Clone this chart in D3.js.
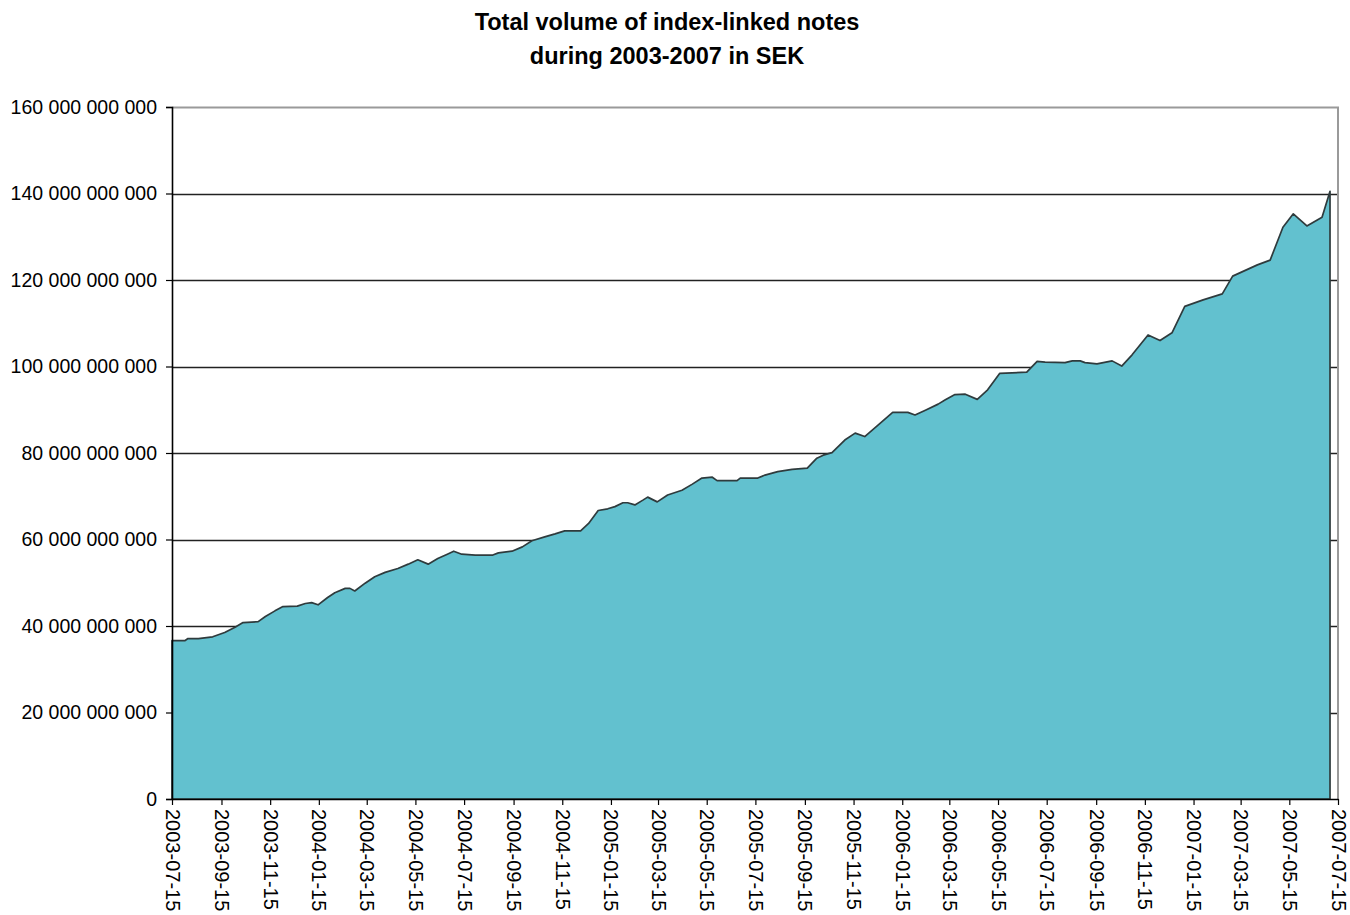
<!DOCTYPE html>
<html>
<head>
<meta charset="utf-8">
<script src="https://cdn.jsdelivr.net/npm/d3@7"></script>
<style>
  html, body { margin: 0; padding: 0; background: #ffffff; }
  svg { display: block; }
  text { font-family: "Liberation Sans", Arial, sans-serif; fill: #000; }
</style>
</head>
<body>
<svg id="chart" width="1350" height="915"></svg>
<script>
// Observation dates (YYYY-MM-DD)
const dates = [
  "2003-07-15","2003-07-31","2003-08-04","2003-08-17","2003-09-04","2003-09-19",
  "2003-10-02","2003-10-12","2003-10-31","2003-11-09","2003-11-21","2003-12-01",
  "2003-12-19","2003-12-29","2004-01-06","2004-01-14","2004-01-26","2004-02-04",
  "2004-02-17","2004-02-23","2004-02-29","2004-03-13","2004-03-25","2004-04-07",
  "2004-04-23","2004-05-06","2004-05-18","2004-05-31","2004-06-12","2004-06-24",
  "2004-07-02","2004-07-12","2004-07-29","2004-08-20","2004-08-27","2004-09-13",
  "2004-09-26","2004-10-08","2004-10-24","2004-11-06","2004-11-18","2004-12-08",
  "2004-12-18","2004-12-30","2005-01-11","2005-01-20","2005-01-30","2005-02-05",
  "2005-02-14","2005-02-24","2005-03-02","2005-03-14","2005-03-27","2005-04-14",
  "2005-04-27","2005-05-09","2005-05-22","2005-05-28","2005-06-22","2005-06-26",
  "2005-07-18","2005-07-27","2005-08-12","2005-08-30","2005-09-18","2005-09-30",
  "2005-10-08","2005-10-19","2005-11-04","2005-11-17","2005-11-29","2005-12-16",
  "2006-01-03","2006-01-22","2006-01-31","2006-02-13","2006-03-01","2006-03-10",
  "2006-03-22","2006-04-04","2006-04-19","2006-05-02","2006-05-17","2006-06-20",
  "2006-07-03","2006-07-13","2006-08-07","2006-08-16","2006-08-26","2006-09-01",
  "2006-09-16","2006-10-05","2006-10-17","2006-10-30","2006-11-19","2006-12-04",
  "2006-12-19","2007-01-04","2007-01-27","2007-02-20","2007-03-05","2007-04-05",
  "2007-04-21","2007-05-07","2007-05-20","2007-06-06","2007-06-25","2007-07-05"
];

// Total outstanding volume, billions of SEK
const volumeBn = [
  36.6, 36.6, 37.1, 37.1, 37.5, 38.5,
  39.7, 40.8, 41.0, 42.2, 43.5, 44.5,
  44.6, 45.2, 45.4, 44.9, 46.6, 47.7,
  48.7, 48.7, 48.1, 49.9, 51.4, 52.4,
  53.3, 54.3, 55.3, 54.3, 55.6, 56.6,
  57.3, 56.6, 56.4, 56.4, 56.9, 57.3,
  58.3, 59.7, 60.6, 61.3, 62.0, 62.0,
  63.7, 66.7, 67.1, 67.6, 68.5, 68.5,
  68.0, 69.1, 69.8, 68.7, 70.3, 71.4,
  72.8, 74.2, 74.4, 73.6, 73.6, 74.2,
  74.2, 74.9, 75.7, 76.2, 76.5, 78.8,
  79.5, 80.1, 83.0, 84.6, 83.8, 86.5,
  89.4, 89.4, 88.8, 89.9, 91.3, 92.3,
  93.5, 93.6, 92.4, 94.6, 98.4, 98.7,
  101.2, 101.0, 100.9, 101.3, 101.3, 100.9,
  100.6, 101.3, 100.1, 102.7, 107.3, 106.0,
  107.8, 113.9, 115.4, 116.8, 120.9, 123.5,
  124.6, 132.2, 135.3, 132.5, 134.5, 140.5
];

// Axis tick labels
const xTickLabels = [
  "2003-07-15","2003-09-15","2003-11-15","2004-01-15","2004-03-15","2004-05-15",
  "2004-07-15","2004-09-15","2004-11-15","2005-01-15","2005-03-15","2005-05-15",
  "2005-07-15","2005-09-15","2005-11-15","2006-01-15","2006-03-15","2006-05-15",
  "2006-07-15","2006-09-15","2006-11-15","2007-01-15","2007-03-15","2007-05-15",
  "2007-07-15"
];
const yTicks = [0, 20e9, 40e9, 60e9, 80e9, 100e9, 120e9, 140e9, 160e9];

const titleLines = ["Total volume of index-linked notes", "during 2003-2007 in SEK"];

const parse = d3.utcParse("%Y-%m-%d");
const data = dates.map((d, i) => ({ date: parse(d), value: volumeBn[i] * 1e9 }));
const xTicks = xTickLabels.map(parse);

const svg = d3.select("#chart");
const margin = { left: 172, right: 12, top: 107, bottom: 116 };
const width = 1350, height = 915;

const x = d3.scaleUtc()
  .domain([xTicks[0], xTicks[xTicks.length - 1]])
  .range([margin.left, width - margin.right]);
const y = d3.scaleLinear()
  .domain([0, 160e9])
  .range([height - margin.bottom, margin.top]);

const fmt = v => d3.format(",")(v).replace(/,/g, " ");

// Title
svg.append("g")
  .selectAll("text")
  .data(titleLines)
  .join("text")
  .attr("x", 667)
  .attr("y", (d, i) => 30 + i * 34)
  .attr("text-anchor", "middle")
  .style("font-size", "23.5px")
  .style("font-weight", "bold")
  .text(d => d);

// Horizontal gridlines
svg.append("g")
  .selectAll("line")
  .data(yTicks.filter(v => v > 0 && v < 160e9))
  .join("line")
  .attr("x1", x.range()[0]).attr("x2", x.range()[1])
  .attr("y1", d => Math.round(y(d)) + 0.5).attr("y2", d => Math.round(y(d)) + 0.5)
  .attr("stroke", "#222").attr("stroke-width", 1.4);

// Plot frame (top and right edges)
svg.append("path")
  .attr("d", `M${x.range()[0]},${y(160e9) + 0.5}H${x.range()[1]}V${y(0)}`)
  .attr("fill", "none")
  .attr("stroke", "#9a9a9a")
  .attr("stroke-width", 2);

// Volume area
const area = d3.area()
  .x(d => x(d.date))
  .y0(y(0))
  .y1(d => y(d.value));

svg.append("path")
  .datum(data)
  .attr("d", area)
  .attr("fill", "#62c1cf")
  .attr("stroke", "#2f3b3d")
  .attr("stroke-width", 1.7)
  .attr("stroke-linejoin", "round");

// Y axis
const yAxis = d3.axisLeft(y)
  .tickValues(yTicks)
  .tickFormat(fmt)
  .tickSize(6)
  .tickPadding(9);
const gy = svg.append("g")
  .attr("transform", `translate(${x.range()[0]},0)`)
  .call(yAxis);
gy.select(".domain").attr("stroke", "#000").attr("stroke-width", 1.6);
gy.selectAll(".tick line").attr("stroke", "#000").attr("stroke-width", 1.2);
gy.selectAll(".tick text")
  .style("font-size", "19.5px")
  .style("font-family", "'Liberation Sans', Arial, sans-serif")
  .attr("fill", "#000");

// X axis
const xAxis = d3.axisBottom(x)
  .tickValues(xTicks)
  .tickFormat((d, i) => xTickLabels[i])
  .tickSize(6)
  .tickSizeOuter(0);
const gx = svg.append("g")
  .attr("transform", `translate(0,${y(0)})`)
  .call(xAxis);
gx.select(".domain").attr("stroke", "#000").attr("stroke-width", 1.6);
gx.selectAll(".tick line").attr("stroke", "#000").attr("stroke-width", 1.2);
gx.selectAll(".tick text")
  .style("font-size", "20px")
  .style("font-family", "'Liberation Sans', Arial, sans-serif")
  .attr("fill", "#000")
  .attr("text-anchor", "start")
  .attr("dy", "0.35em")
  .attr("transform", "translate(0,10) rotate(90)")
  .attr("x", 0)
  .attr("y", 0);
</script>
</body>
</html>
